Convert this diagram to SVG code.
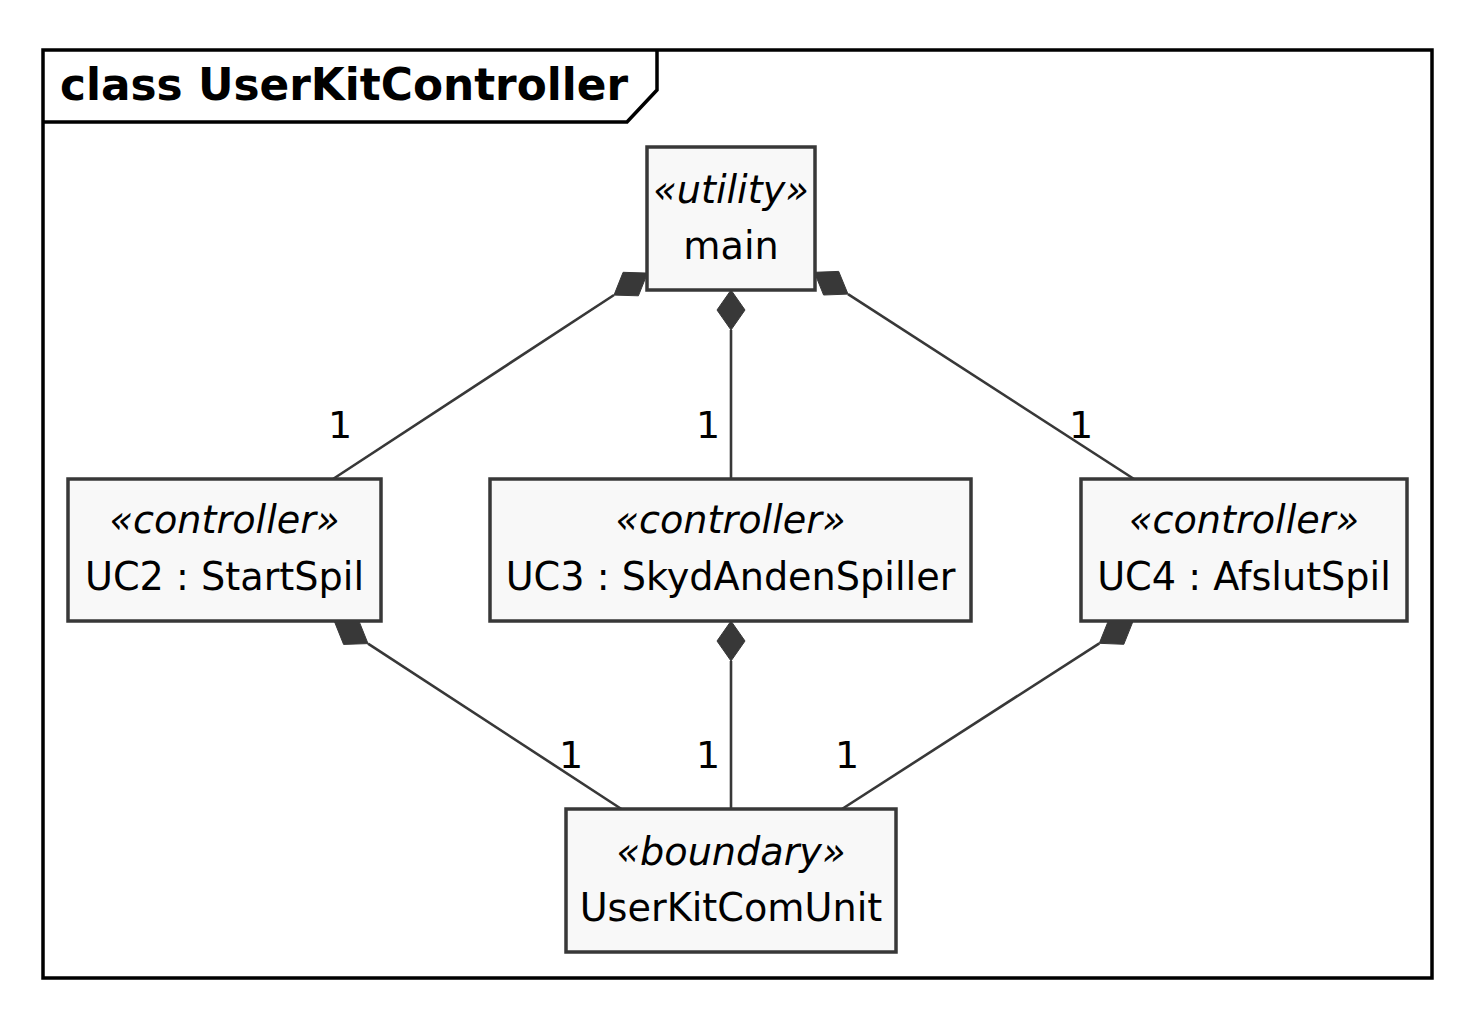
<svg xmlns="http://www.w3.org/2000/svg" width="1462" height="1009" viewBox="0 0 1462 1009">
<style>
.frame{fill:none;stroke:#000;stroke-width:3.5}
.box{fill:#F8F8F8;stroke:#383838;stroke-width:3.5}
.ln{stroke:#383838;stroke-width:2.6;fill:none}
.dia{fill:#383838;stroke:#383838;stroke-width:1}
.t{font-family:"DejaVu Sans","Noto Sans",sans-serif;font-size:38.2px;fill:#000;text-anchor:middle}
.st{font-style:italic}
.title{font-family:"DejaVu Sans","Noto Sans",sans-serif;font-size:43.8px;font-weight:bold;fill:#000}
.m{font-family:"DejaVu Sans","Noto Sans",sans-serif;font-size:38px;fill:#000;text-anchor:middle}
</style>
<rect width="1462" height="1009" fill="#fff"/>
<g id="frame">
<rect class="frame" x="43" y="50" width="1389" height="928"/>
<path class="frame" d="M43,122 L627,122 L657,90 L657,50"/>
<text class="title" x="60" y="100">class UserKitController</text>
</g>
<g id="connectors">
<line class="ln" x1="333" y1="479" x2="614" y2="295"/>
<polygon class="dia" points="614,295.1 638.4,295.8 647.5,273.1 623.1,272.3"/>
<line class="ln" x1="731" y1="330" x2="731" y2="479"/>
<polygon class="dia" points="731,290 745,310 731,330 717,310"/>
<line class="ln" x1="1134" y1="479" x2="848" y2="294.1"/>
<polygon class="dia" points="848,294.1 823.6,295.0 814.4,272.3 838.7,271.4"/>
<line class="ln" x1="368" y1="643.6" x2="621.4" y2="809"/>
<polygon class="dia" points="368,643.6 343.6,644.4 334.5,621.7 358.9,620.9"/>
<line class="ln" x1="731" y1="661" x2="731" y2="809"/>
<polygon class="dia" points="731,621 745,641 731,661 717,641"/>
<line class="ln" x1="1099.3" y1="643.3" x2="842" y2="809"/>
<polygon class="dia" points="1099.3,643.3 1123.8,644.3 1132.9,621.6 1108.4,620.7"/>
<text class="m" x="340" y="438">1</text>
<text class="m" x="708" y="438">1</text>
<text class="m" x="1081" y="438">1</text>
<text class="m" x="571" y="768">1</text>
<text class="m" x="708" y="768">1</text>
<text class="m" x="847" y="768">1</text>
</g>
<g id="main">
<rect class="box" x="647" y="147" width="168" height="143"/>
<text class="t st" x="731" y="203">«utility»</text>
<text class="t" x="731" y="259">main</text>
</g>
<g id="uc2">
<rect class="box" x="68" y="479" width="313" height="142"/>
<text class="t st" x="224.5" y="533">«controller»</text>
<text class="t" x="224.5" y="590">UC2 : StartSpil</text>
</g>
<g id="uc3">
<rect class="box" x="490" y="479" width="481" height="142"/>
<text class="t st" x="730.5" y="533">«controller»</text>
<text class="t" x="730.5" y="590">UC3 : SkydAndenSpiller</text>
</g>
<g id="uc4">
<rect class="box" x="1081" y="479" width="326" height="142"/>
<text class="t st" x="1244" y="533">«controller»</text>
<text class="t" x="1244" y="590">UC4 : AfslutSpil</text>
</g>
<g id="userkitcomunit">
<rect class="box" x="566" y="809" width="330" height="143"/>
<text class="t st" x="731" y="865">«boundary»</text>
<text class="t" x="731" y="921">UserKitComUnit</text>
</g>
</svg>
